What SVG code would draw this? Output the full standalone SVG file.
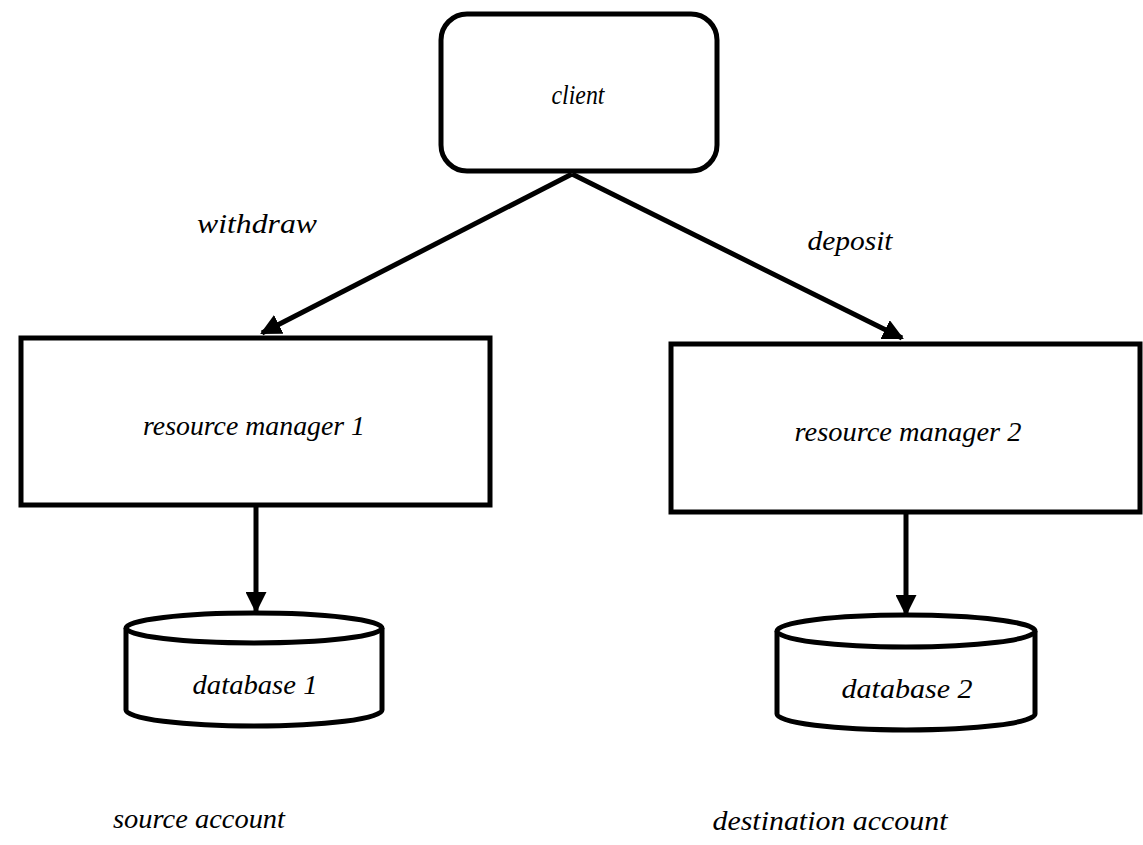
<svg xmlns="http://www.w3.org/2000/svg" width="1143" height="845" viewBox="0 0 1143 845">
<style>
.box{fill:#fff;stroke:#000;stroke-width:5}
.lbl{font-family:"Liberation Serif",serif;font-style:italic;font-size:27px;fill:#000;text-anchor:middle}
.con{stroke:#000;stroke-width:5;fill:none}
</style>
<defs>
<marker id="ah" viewBox="0 0 10 10" refX="9" refY="5" markerWidth="4.2" markerHeight="4.2" orient="auto" markerUnits="strokeWidth">
<path d="M0,0 L10,5 L0,10 Z" fill="#000"/>
</marker>
</defs>
<rect width="1143" height="845" fill="#fff"/>
<g id="client">
<rect class="box" x="441" y="14" width="276" height="157" rx="26" ry="26" stroke-width="6"/>
<text class="lbl" x="578" y="104" font-size="20" textLength="53" lengthAdjust="spacingAndGlyphs">client</text>
</g>
<g id="rm1">
<rect class="box" x="21" y="338" width="469" height="167"/>
<text class="lbl" x="254" y="435" textLength="222" lengthAdjust="spacingAndGlyphs">resource manager 1</text>
</g>
<g id="rm2">
<rect class="box" x="671" y="344" width="469" height="168"/>
<text class="lbl" x="908" y="441" textLength="227" lengthAdjust="spacingAndGlyphs">resource manager 2</text>
</g>
<g id="db1">
<path class="box" d="M126,628 L126,710 A128,16 0 0 0 382,710 L382,628"/>
<ellipse class="box" cx="254" cy="628" rx="128" ry="15"/>
<text class="lbl" x="255" y="694" textLength="125" lengthAdjust="spacingAndGlyphs">database 1</text>
</g>
<g id="db2">
<path class="box" d="M777,631 L777,714 A129,16 0 0 0 1035,714 L1035,631"/>
<ellipse class="box" cx="906" cy="631" rx="129" ry="16"/>
<text class="lbl" x="907" y="698" textLength="131" lengthAdjust="spacingAndGlyphs">database 2</text>
</g>
<g id="connectors">
<line class="con" x1="572" y1="174" x2="262" y2="333" marker-end="url(#ah)"/>
<line class="con" x1="572" y1="174" x2="902" y2="338" marker-end="url(#ah)"/>
<line class="con" x1="256" y1="505" x2="256" y2="611" marker-end="url(#ah)"/>
<line class="con" x1="906" y1="512" x2="906" y2="614" marker-end="url(#ah)"/>
<text class="lbl" x="257" y="233" textLength="120" lengthAdjust="spacingAndGlyphs">withdraw</text>
<text class="lbl" x="850" y="250" textLength="85" lengthAdjust="spacingAndGlyphs">deposit</text>
</g>
<g id="notes">
<text class="lbl" x="199" y="828" textLength="172" lengthAdjust="spacingAndGlyphs">source account</text>
<text class="lbl" x="830" y="830" textLength="235" lengthAdjust="spacingAndGlyphs">destination account</text>
</g>
</svg>
